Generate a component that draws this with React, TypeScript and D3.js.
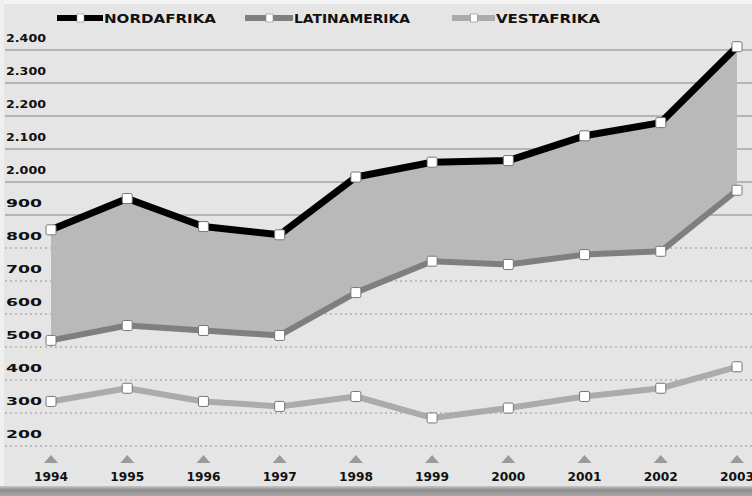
import React from "react";
import * as d3 from "d3";

const years = ["1994", "1995", "1996", "1997", "1998", "1999", "2000", "2001", "2002", "2003"];
const seriesNames = ["NORDAFRIKA", "LATINAMERIKA", "VESTAFRIKA"];
const nord = [1855, 1950, 1865, 1840, 2015, 2060, 2065, 2140, 2180, 2410];
const latin = [1520, 1565, 1550, 1535, 1665, 1760, 1750, 1780, 1790, 1975];
const vest = [1335, 1375, 1335, 1320, 1350, 1285, 1315, 1350, 1375, 1440];
const tickValues = [2400, 2300, 2200, 2100, 2000, 1900, 1800, 1700, 1600, 1500, 1400, 1300, 1200];
const tickLabels = ["2.400", "2.300", "2.200", "2.100", "2.000", "900", "800", "700", "600", "500", "400", "300", "200"];

const W = 752;
const H = 496;
const colors = ["#000000", "#7f7f7f", "#ababab"];
const widths = [7, 6, 6];

// legend layout: swatch start, swatch width, text width
const legendX = [57, 245, 452];
const legendSw = [46, 48, 43];
const legendTw = [112, 116, 104];

export default function App() {
  const x = d3.scalePoint<string>().domain(years).range([51, 737]);
  const y = d3.scaleLinear().domain([1200, 2400]).range([446, 50]);

  const series = [nord, latin, vest];
  const line = d3
    .line<number>()
    .x((_, i) => x(years[i]) as number)
    .y((d) => y(d));

  const area = d3
    .area<number>()
    .x((_, i) => x(years[i]) as number)
    .y0((_, i) => y(latin[i]))
    .y1((d) => y(d));

  const font = "'DejaVu Sans', Verdana, sans-serif";

  return (
    <div style={{ position: "fixed", left: 0, top: 0 }}>
      <svg width={W} height={H} style={{ display: "block" }}>
        <defs>
          <linearGradient id="bottomBar" x1="0" y1="0" x2="0" y2="1">
            <stop offset="0" stopColor="#c8c8c8" />
            <stop offset="0.4" stopColor="#8c8c8c" />
            <stop offset="1" stopColor="#a8a8a8" />
          </linearGradient>
        </defs>
        <rect x={0} y={0} width={W} height={H} fill="#e5e5e5" />
        <rect x={0} y={0} width={W} height={4} fill="#f4f4f4" />
        <rect x={0} y={0} width={4} height={H} fill="#efefef" />

        {/* gridlines */}
        {tickValues.map((v) => (
          <line
            key={v}
            x1={5}
            x2={W}
            y1={y(v)}
            y2={y(v)}
            stroke={v >= 1900 ? "#a3a3a3" : "#bdbdbd"}
            strokeWidth={v >= 1900 ? 1.6 : 2}
            strokeDasharray={v >= 1900 ? undefined : "2 3"}
          />
        ))}

        {/* y labels */}
        {tickValues.map((v, i) => (
          <text
            key={"t" + v}
            x={6}
            y={y(v) - 8}
            fontFamily={font}
            fontWeight="bold"
            fontSize={11}
            fill="#111"
            textLength={i < 5 ? 40 : 36}
            lengthAdjust="spacingAndGlyphs"
          >
            {tickLabels[i]}
          </text>
        ))}

        {/* area between first two series */}
        <path d={area(nord) || ""} fill="#b9b9b9" />

        {/* lines */}
        {series.map((s, k) => (
          <path
            key={"l" + k}
            d={line(s) || ""}
            fill="none"
            stroke={colors[k]}
            strokeWidth={widths[k]}
            strokeLinejoin="round"
          />
        ))}

        {/* markers */}
        {series.map((s, k) =>
          s.map((d, i) => (
            <rect
              key={"m" + k + "-" + i}
              x={(x(years[i]) as number) - 5}
              y={y(d) - 5}
              width={10}
              height={10}
              rx={1.5}
              fill="#ffffff"
              stroke="#777"
              strokeWidth={1}
            />
          ))
        )}

        {/* x axis triangles and labels */}
        {years.map((yr) => (
          <g key={yr} transform={`translate(${x(yr)},0)`}>
            <path d="M-7,463 L0,455 L7,463 Z" fill="#9a9a9a" />
            <text
              x={-17}
              y={481}
              fontFamily={font}
              fontWeight="bold"
              fontSize={12}
              fill="#111"
              textLength={34}
              lengthAdjust="spacingAndGlyphs"
            >
              {yr}
            </text>
          </g>
        ))}

        <rect x={0} y={486} width={W} height={10} fill="url(#bottomBar)" />

        {/* legend */}
        {seriesNames.map((name, k) => {
          const lx = legendX[k];
          const sw = legendSw[k];
          return (
            <g key={name}>
              <line x1={lx} x2={lx + sw} y1={18} y2={18} stroke={colors[k]} strokeWidth={6} />
              <rect x={lx + sw / 2 - 3} y={14} width={7} height={8} fill="#fff" stroke="#888" strokeWidth={0.6} />
              <text
                x={lx + sw + 1}
                y={23}
                fontFamily={font}
                fontWeight="bold"
                fontSize={12.5}
                fill="#111"
                textLength={legendTw[k]}
                lengthAdjust="spacingAndGlyphs"
              >
                {name}
              </text>
            </g>
          );
        })}
      </svg>
    </div>
  );
}
